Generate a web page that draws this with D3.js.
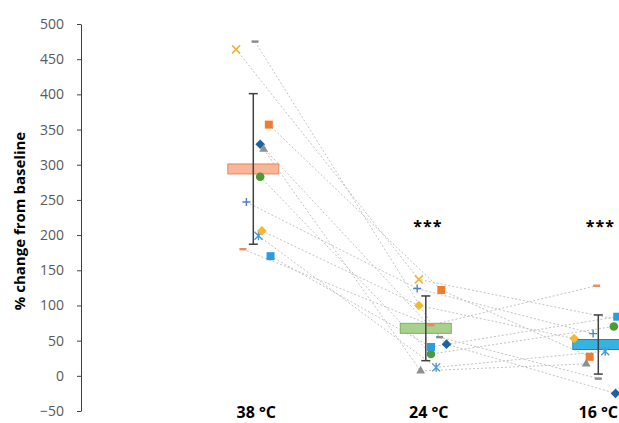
<!DOCTYPE html>
<meta charset="utf-8">
<style>
body { margin: 0; background: #fff; }
svg { display: block; font-family: "Open Sans", sans-serif; }
.axis path, .axis line { stroke: #404040; }
.axis text { fill: #595959; font-size: 14px; font-family: "Open Sans", sans-serif; }
</style>
<body>
<script src="https://d3js.org/d3.v7.min.js"></script>
<script>

// conditions and group summaries
var categories = ["38 °C", "24 °C", "16 °C"];
var means = [294, 67.5, 44.5];
var sds = [107, 46, 42];
var stars = ["", "***", "***"];
var yTicks = [-50, 0, 50, 100, 150, 200, 250, 300, 350, 400, 450, 500];

// individual subjects (one row each, columns = 38, 24, 16 °C)
var markers = ["diamond", "square", "triangle", "x", "star", "circle", "plus", "dash", "dash", "diamond", "square"];
var colors = ["#1f5fa6", "#ed7d31", "#8f8f8f", "#f0b43c", "#4a98d8", "#4e9a35", "#4f7fcc", "#ee8a5a", "#8a8a8a", "#f5b82e", "#2e9bdd"];
var values = [
    [329, 45, -25],
    [357, 122, 27],
    [322, 7, 17],
    [464, 137, 78],
    [199, 12, 35],
    [283, 31, 70],
    [247, 124, 60],
    [180, 72, 128],
    [475, 55, -4],
    [206, 100, 53],
    [170, 41, 84]
];
// scatter x values (category number plus jitter)
var xValues = [
    [1.04, 2.12, 3.10],
    [1.09, 2.09, 2.95],
    [1.06, 1.97, 2.93],
    [0.90, 1.96, 3.15],
    [1.03, 2.06, 3.04],
    [1.04, 2.03, 3.09],
    [0.96, 1.95, 2.97],
    [0.94, 2.03, 2.99],
    [1.01, 2.08, 3.00],
    [1.05, 1.96, 2.86],
    [1.10, 2.03, 3.11]
];

var barFill = ["#f8b597", "#a9d18e", "#35b4e4"];
var barStroke = ["#e08a62", "#7fae62", "#1f86b8"];

var w = 619, h = 423;

var svg = d3.select("body").append("svg")
    .attr("width", w)
    .attr("height", h);

var x = d3.scaleLinear().domain([1, 3]).range([253.3, 598.3]);
var y = d3.scaleLinear().domain([-50, 500]).range([411, 24]);

// y axis
var yAxis = svg.append("g")
    .attr("class", "axis")
    .attr("transform", "translate(81,0)")
    .call(d3.axisLeft(y).tickValues(yTicks).tickSize(4).tickPadding(13).tickSizeOuter(0));

svg.append("text")
    .attr("transform", "translate(20," + y(220) + ") rotate(-90)")
    .attr("text-anchor", "middle")
    .attr("dy", "0.35em")
    .style("font-weight", "bold")
    .style("font-size", "15px")
    .attr("fill", "#000")
    .text("% change from baseline");

// category labels (last one is pulled in so it stays inside the frame)
svg.selectAll(".cat")
    .data(categories)
    .enter().append("text")
    .attr("class", "cat")
    .attr("x", function(d, i) { return x(i + 1) + 3; })
    .attr("y", 418)
    .attr("text-anchor", "middle")
    .style("font-weight", "bold")
    .style("font-size", "16px")
    .attr("fill", "#000")
    .text(function(d) { return d; })
    .each(function() {
        var b = this.getBBox();
        if (b.x + b.width > w - 1) {
            d3.select(this).attr("x", +d3.select(this).attr("x") - (b.x + b.width - (w - 1)));
        }
    });

// dotted lines joining each subject
var line = d3.line()
    .x(function(d) { return x(d[0]); })
    .y(function(d) { return y(d[1]); });

svg.selectAll(".subj")
    .data(values)
    .enter().append("path")
    .attr("class", "subj")
    .attr("d", function(d, i) {
        return line(d.map(function(v, j) { return [xValues[i][j], v]; }));
    })
    .attr("fill", "none")
    .attr("stroke", "#c4c4c4")
    .attr("stroke-width", 1)
    .attr("stroke-dasharray", "2,2");

// mean bars
svg.selectAll(".mean")
    .data(means)
    .enter().append("rect")
    .attr("class", "mean")
    .attr("x", function(d, i) { return x(i + 1) - 25.5; })
    .attr("y", function(d) { return y(d) - 5; })
    .attr("width", 51)
    .attr("height", 10)
    .attr("fill", function(d, i) { return barFill[i]; })
    .attr("stroke", function(d, i) { return barStroke[i]; })
    .attr("stroke-width", 1);

// error bars
var eb = svg.selectAll(".eb")
    .data(means)
    .enter().append("g")
    .attr("class", "eb")
    .attr("stroke", "#404040")
    .attr("stroke-width", 1.5);

eb.append("line")
    .attr("x1", function(d, i) { return x(i + 1); })
    .attr("x2", function(d, i) { return x(i + 1); })
    .attr("y1", function(d, i) { return y(d + sds[i]); })
    .attr("y2", function(d, i) { return y(d - sds[i]); });

eb.selectAll(".cap")
    .data(function(d, i) { return [[i, d + sds[i]], [i, d - sds[i]]]; })
    .enter().append("line")
    .attr("x1", function(d) { return x(d[0] + 1) - 4.5; })
    .attr("x2", function(d) { return x(d[0] + 1) + 4.5; })
    .attr("y1", function(d) { return y(d[1]); })
    .attr("y2", function(d) { return y(d[1]); });

// significance stars
svg.selectAll(".sig")
    .data(stars)
    .enter().append("text")
    .attr("class", "sig")
    .attr("x", function(d, i) { return x(i + 1) + 2; })
    .attr("y", 232)
    .attr("text-anchor", "middle")
    .style("font-weight", "bold")
    .style("font-size", "16px")
    .style("letter-spacing", "1px")
    .attr("fill", "#000")
    .text(function(d) { return d; });

// markers
function drawMarker(g, type, color) {
    if (type == "diamond") {
        g.append("path").attr("d", "M0,-4.8L4.8,0L0,4.8L-4.8,0Z")
            .attr("fill", color);
    } else if (type == "square") {
        g.append("rect").attr("x", -4).attr("y", -4).attr("width", 8).attr("height", 8)
            .attr("fill", color);
    } else if (type == "triangle") {
        g.append("path").attr("d", d3.symbol().type(d3.symbolTriangle).size(34)())
            .attr("fill", color);
    } else if (type == "circle") {
        g.append("circle").attr("r", 4.3).attr("fill", color);
    } else if (type == "dash") {
        g.append("rect").attr("x", -3.5).attr("y", -1.2).attr("width", 7).attr("height", 2.4)
            .attr("fill", color);
    } else if (type == "x") {
        g.append("path").attr("d", "M-4,-4L4,4M-4,4L4,-4")
            .attr("stroke", color).attr("stroke-width", 1.6);
    } else if (type == "plus") {
        g.append("path").attr("d", "M-4,0L4,0M0,-4L0,4")
            .attr("stroke", color).attr("stroke-width", 1.4);
    } else if (type == "star") {
        g.append("path").attr("d", "M-4,-4L4,4M-4,4L4,-4M0,-4.5L0,4.5")
            .attr("stroke", color).attr("stroke-width", 1.4);
    }
}

values.forEach(function(row, i) {
    row.forEach(function(v, j) {
        var g = svg.append("g")
            .attr("transform", "translate(" + x(xValues[i][j]) + "," + y(v) + ")");
        drawMarker(g, markers[i], colors[i]);
    });
});

</script>
</body>
